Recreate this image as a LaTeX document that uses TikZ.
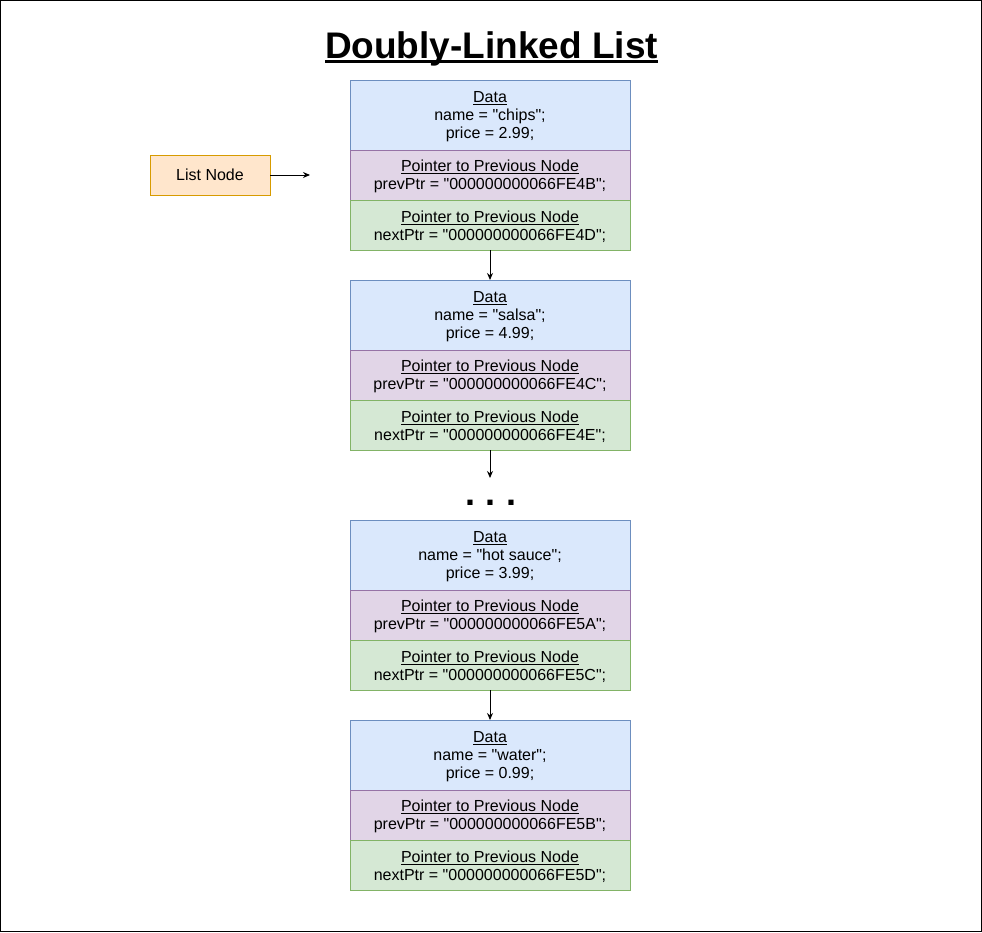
\documentclass[tikz,border=0pt]{standalone}
\usepackage{fontspec}
\setmainfont{Liberation Sans}[Ligatures=TeXOff]
\usetikzlibrary{positioning,arrows.meta}

\definecolor{dataFill}{HTML}{DAE8FC}
\definecolor{dataLine}{HTML}{6C8EBF}
\definecolor{prevFill}{HTML}{E1D5E7}
\definecolor{prevLine}{HTML}{9673A6}
\definecolor{nextFill}{HTML}{D5E8D4}
\definecolor{nextLine}{HTML}{82B366}
\definecolor{headFill}{HTML}{FFE6CC}
\definecolor{headLine}{HTML}{D79B00}

% underline close to the baseline, through the descenders
\newcommand{\ulined}[1]{\setbox0\hbox{#1}\rlap{\rule[-0.14em]{\wd0}{0.075em}}\box0\rule{0pt}{0.95em}}

\begin{document}
\begin{tikzpicture}[x=1pt, y=-1pt, line width=1pt, >={Stealth[length=7pt, width=6pt]},
    cell/.style={draw, outer sep=0pt, inner sep=0pt, minimum width=280pt, align=center, font=\fontsize{16}{18}\selectfont},
    datacell/.style={cell, fill=dataFill, draw=dataLine, minimum height=70pt},
    prevcell/.style={cell, fill=prevFill, draw=prevLine, minimum height=50pt},
    nextcell/.style={cell, fill=nextFill, draw=nextLine, minimum height=50pt}]

    \useasboundingbox (0,0) rectangle (982,932);
    \draw[black] (0.5,0.5) rectangle (981.5,931.5);

    \node[font=\fontsize{37}{40}\selectfont\bfseries, anchor=base] (title) at (491.5,58) {\ulined{Doubly-Linked List}};

    % one block per list element
    \foreach \n/\ytop/\food/\cost/\previd/\nextid in {1/80/chips/2.99/4B/4D, 2/280/salsa/4.99/4C/4E, 3/520/hot sauce/3.99/5A/5C, 4/720/water/0.99/5B/5D}
    {
        \node[datacell, anchor=north] (data\n) at (490,\ytop) {\ulined{Data}\\ name = "\food";\\ price = \cost;};
        \node[prevcell, below=0pt of data\n] (prev\n) {\ulined{Pointer to Previous Node}\\ prevPtr = "000000000066FE\previd";};
        \node[nextcell, below=0pt of prev\n] (next\n) {\ulined{Pointer to Previous Node}\\ nextPtr = "000000000066FE\nextid";};
    }

    \node[cell, fill=headFill, draw=headLine, minimum width=120pt, minimum height=40pt] (head) at (210,175) {List Node};
    \coordinate (headtip) at (310,175);
    \draw[->] (head) -- (headtip);

    \draw[->] (next1) -- (data2);
    \coordinate (gap) at (490,478);
    \draw[->] (next2) -- (gap);
    \node[font=\fontsize{36}{40}\selectfont\bfseries, anchor=base] (dots) at (490.5,505) {.\hspace{10.5pt}.\hspace{10.5pt}.};
    \draw[->] (next3) -- (data4);

\end{tikzpicture}
\end{document}
